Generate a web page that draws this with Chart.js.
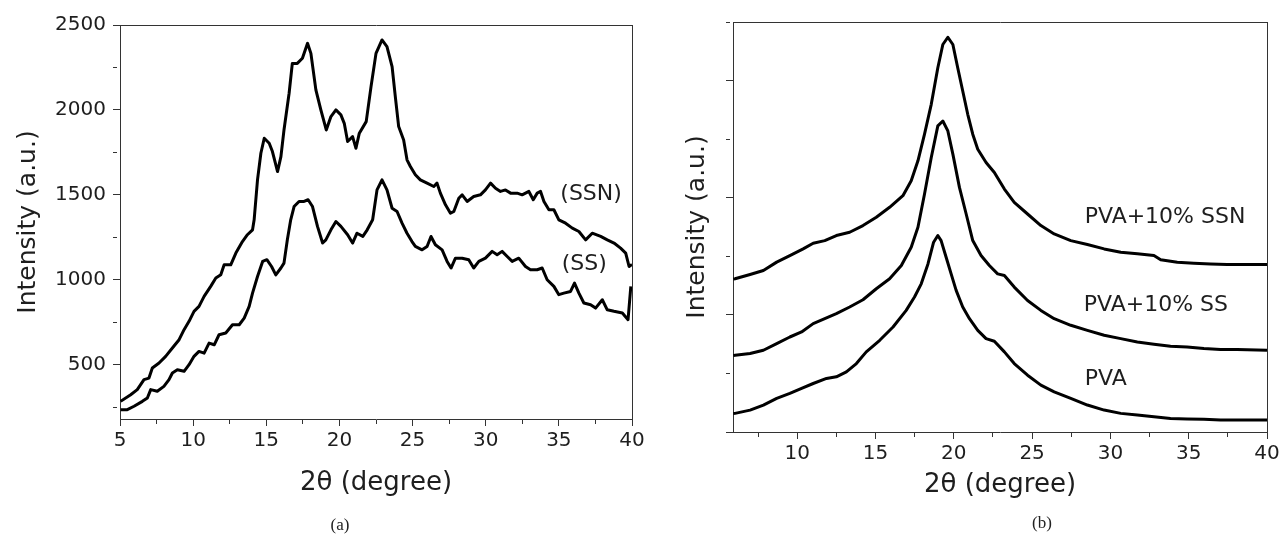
<!DOCTYPE html>
<html>
<head>
<meta charset="utf-8">
<script src="https://cdn.jsdelivr.net/npm/chart.js@4.4.1/dist/chart.umd.min.js"></script>
<style>
html, body { margin: 0; padding: 0; background: #fff; overflow: hidden; width: 1281px; height: 539px; }
canvas { position: absolute; top: 0; }
.cap { position: absolute; font-family: "Liberation Serif", serif; font-size: 17px; color: #222; transform: translate(-50%, -50%); }
</style>
</head>
<body>
<canvas id="chartA" width="660" height="539" style="left:0"></canvas>
<canvas id="chartB" width="640" height="539" style="left:660px"></canvas>
<div class="cap" style="left:340px;top:525px">(a)</div>
<div class="cap" style="left:1042px;top:523px">(b)</div>
<script>
// ---- panel (a) : SSN / SS, intensity counts
var thetaA_SSN = [5.04, 5.73, 6.18, 6.64, 6.98, 7.21, 7.67, 8.12, 8.58, 9.04, 9.38, 9.72, 10.06, 10.4, 10.75, 11.2, 11.55, 11.89, 12.12, 12.57,
    12.92, 13.37, 13.71, 14.06, 14.17, 14.4, 14.63, 14.86, 15.2, 15.42, 15.77, 16.0, 16.21, 16.56, 16.78, 17.12, 17.47, 17.82, 18.05, 18.39,
    18.73, 19.1, 19.42, 19.76, 20.1, 20.33, 20.56, 20.9, 21.13, 21.36, 21.83, 22.16, 22.5, 22.91, 23.25, 23.6, 23.82, 24.05, 24.39, 24.62,
    24.85, 25.19, 25.53, 25.99, 26.45, 26.67, 26.9, 27.25, 27.59, 27.82, 28.16, 28.39, 28.73, 29.18, 29.64, 29.98, 30.33, 30.67, 31.01, 31.35,
    31.7, 32.15, 32.49, 32.95, 33.25, 33.52, 33.75, 33.98, 34.32, 34.66, 35.0, 35.46, 35.92, 36.37, 36.83, 37.28, 37.86, 38.31, 38.77, 39.22,
    39.57, 39.8, 40.0];
var intensA_SSN = [284, 323, 353, 412, 421, 480, 510, 549, 598, 647, 706, 755, 814, 843, 902, 961, 1010, 1029, 1088, 1088,
    1157, 1225, 1265, 1294, 1353, 1588, 1745, 1833, 1804, 1755, 1637, 1725, 1882, 2098, 2274, 2274, 2304, 2392, 2333, 2118,
    2000, 1882, 1961, 2000, 1971, 1921, 1814, 1843, 1774, 1863, 1931, 2137, 2333, 2412, 2373, 2255, 2078, 1902, 1823, 1706,
    1667, 1618, 1588, 1569, 1549, 1569, 1510, 1441, 1392, 1402, 1480, 1500, 1461, 1490, 1500, 1529, 1569, 1539, 1520, 1529,
    1510, 1510, 1500, 1520, 1471, 1510, 1520, 1461, 1412, 1412, 1353, 1333, 1304, 1284, 1235, 1274, 1255, 1235, 1216, 1186,
    1157, 1078, 1090];

var thetaA_SS = [5.04, 5.5, 5.96, 6.53, 6.87, 7.1, 7.55, 8.0, 8.35, 8.58, 8.92, 9.38, 9.72, 10.06, 10.4, 10.75, 11.09, 11.44, 11.77, 12.23,
    12.69, 13.15, 13.49, 13.83, 14.06, 14.4, 14.75, 15.04, 15.36, 15.65, 16.0, 16.21, 16.44, 16.67, 16.9, 17.24, 17.58, 17.86, 18.16, 18.5,
    18.85, 19.07, 19.42, 19.76, 20.1, 20.56, 20.9, 21.2, 21.6, 21.9, 22.27, 22.57, 22.91, 23.25, 23.6, 23.94, 24.28, 24.62, 24.96, 25.19,
    25.65, 25.99, 26.26, 26.56, 27.02, 27.36, 27.63, 27.93, 28.39, 28.84, 29.18, 29.53, 29.98, 30.44, 30.78, 31.12, 31.47, 31.81, 32.26, 32.72,
    33.06, 33.52, 33.86, 34.2, 34.66, 35.0, 35.34, 35.8, 36.07, 36.37, 36.71, 37.17, 37.51, 37.97, 38.31, 38.77, 39.34, 39.73, 39.92];
var intensA_SS = [235, 235, 255, 284, 304, 353, 343, 372, 412, 451, 470, 461, 500, 549, 578, 568, 627, 617, 676, 686,
    735, 735, 774, 843, 921, 1019, 1108, 1118, 1078, 1029, 1069, 1098, 1235, 1353, 1431, 1461, 1461, 1471, 1431, 1314,
    1216, 1235, 1294, 1343, 1314, 1265, 1216, 1274, 1255, 1294, 1353, 1529, 1588, 1529, 1421, 1402, 1333, 1274, 1225, 1196,
    1176, 1196, 1255, 1206, 1176, 1108, 1069, 1127, 1127, 1118, 1069, 1108, 1127, 1167, 1147, 1167, 1137, 1108, 1127, 1078,
    1059, 1059, 1069, 1000, 961, 912, 921, 931, 980, 921, 863, 853, 833, 882, 823, 814, 804, 765, 961];

var xMajorA = [5, 10, 15, 20, 25, 30, 35, 40];
var xMinorA = [7.5, 12.5, 17.5, 22.5, 27.5, 32.5, 37.5];
var yMajorA = [500, 1000, 1500, 2000, 2500];
var yMinorA = [250, 750, 1250, 1750, 2250];

var labelTextA = ['(SSN)', '(SS)'];
var labelThetaA = [35.1, 35.2];
var labelIntensA = [1506, 1091];

// ---- panel (b) : PVA films, arbitrary units
var thetaB_SSN = [5.92, 6.03, 6.99, 7.84, 8.69, 9.53, 10.38, 11.02, 11.76, 12.5, 13.35, 14.2, 15.05, 15.9, 16.75, 17.28, 17.71, 18.13, 18.56, 18.98,
    19.3, 19.62, 19.94, 20.25, 20.57, 20.89, 21.21, 21.53, 22.06, 22.59, 23.23, 23.86, 24.71, 25.56, 26.41, 27.47, 28.53, 29.6, 30.66, 31.72,
    32.78, 33.21, 34.27, 35.33, 36.39, 37.45, 38.51, 40.0];
var intensB_SSN = [1.305, 1.308, 1.345, 1.379, 1.45, 1.506, 1.563, 1.611, 1.634, 1.677, 1.705, 1.762, 1.833, 1.918, 2.017, 2.145, 2.315, 2.542, 2.797, 3.109,
    3.308, 3.37, 3.308, 3.109, 2.911, 2.712, 2.542, 2.414, 2.30, 2.216, 2.074, 1.96, 1.861, 1.762, 1.691, 1.634, 1.6, 1.563, 1.535, 1.521,
    1.506, 1.47, 1.45, 1.441, 1.435, 1.43, 1.43, 1.43];

var thetaB_SS = [5.92, 6.03, 6.99, 7.84, 8.69, 9.53, 10.28, 11.02, 11.76, 12.5, 13.35, 14.2, 15.05, 15.9, 16.65, 17.28, 17.71, 18.13, 18.56, 18.98,
    19.3, 19.62, 19.94, 20.36, 20.79, 21.21, 21.74, 22.27, 22.8, 23.23, 23.86, 24.71, 25.56, 26.41, 27.47, 28.53, 29.6, 30.66, 31.72, 32.78,
    33.84, 34.9, 35.97, 37.03, 38.09, 40.0];
var intensB_SS = [0.652, 0.655, 0.67, 0.698, 0.755, 0.811, 0.854, 0.925, 0.967, 1.01, 1.067, 1.129, 1.223, 1.308, 1.421, 1.577, 1.748, 2.031, 2.343, 2.613,
    2.655, 2.57, 2.372, 2.088, 1.861, 1.634, 1.506, 1.421, 1.35, 1.336, 1.237, 1.123, 1.038, 0.967, 0.911, 0.868, 0.826, 0.797, 0.769, 0.749,
    0.732, 0.726, 0.712, 0.704, 0.704, 0.698];

var thetaB_PVA = [5.92, 6.03, 6.99, 7.84, 8.69, 9.53, 10.28, 11.02, 11.87, 12.5, 13.14, 13.78, 14.41, 15.27, 16.12, 16.96, 17.49, 17.92, 18.35, 18.71,
    18.98, 19.19, 19.51, 19.83, 20.15, 20.57, 21.0, 21.53, 22.06, 22.59, 23.23, 23.86, 24.71, 25.56, 26.41, 27.47, 28.53, 29.6, 30.66, 31.72,
    32.78, 33.84, 34.9, 35.97, 37.03, 38.09, 40.0];
var intensB_PVA = [0.157, 0.159, 0.187, 0.23, 0.287, 0.329, 0.372, 0.414, 0.457, 0.471, 0.513, 0.584, 0.684, 0.783, 0.896, 1.038, 1.152, 1.265, 1.435, 1.62,
    1.677, 1.634, 1.492, 1.35, 1.209, 1.067, 0.967, 0.868, 0.797, 0.775, 0.684, 0.584, 0.485, 0.4, 0.343, 0.287, 0.23, 0.187, 0.159, 0.145,
    0.13, 0.116, 0.111, 0.108, 0.102, 0.102, 0.102];

var xMajorB = [10, 15, 20, 25, 30, 35, 40];
var xMinorB = [7.5, 12.5, 17.5, 22.5, 27.5, 32.5, 37.5];
var yMajorB = [0, 1, 2, 3];
var yMinorB = [0.5, 1.5, 2.5, 3.5];

var labelTextB = ['PVA+10% SSN', 'PVA+10% SS', 'PVA'];
var labelThetaB = [28.36, 28.3, 28.36];
var labelIntensB = [1.834, 1.085, 0.451];

// ---- shared helpers
var FONT = 'DejaVu Sans';
var INK = '#1e1e1e';
var AXIS = '#333';

function pts(xs, ys) {
    return xs.map(function (x, i) { return { x: x, y: ys[i] }; });
}

function curve(xs, ys) {
    return {
        data: pts(xs, ys),
        borderColor: '#000',
        borderWidth: 3,
        borderJoinStyle: 'round',
        pointRadius: 0,
        tension: 0,
        fill: false
    };
}

// axis with long major ticks and short minor ticks (minor = dashed stub)
function tickAxis(pos, min, max, majors, minors, showLabels, size, title, titleSize, titlePad) {
    var horiz = pos === 'bottom';
    return {
        type: 'linear',
        position: pos,
        min: min,
        max: max,
        afterBuildTicks: function (scale) {
            scale.ticks = majors.concat(minors).sort(function (a, b) { return a - b; })
                .map(function (v) { return { value: v }; });
        },
        afterFit: function (scale) {
            if (horiz) scale.height = size; else scale.width = size;
        },
        border: { display: true, color: AXIS, width: 1 },
        grid: {
            drawOnChartArea: false,
            drawTicks: true,
            tickLength: 7,
            tickColor: AXIS,
            tickWidth: 1,
            tickBorderDash: function (ctx) {
                return (ctx.tick && minors.indexOf(ctx.tick.value) >= 0) ? [4, 40] : [];
            }
        },
        ticks: {
            autoSkip: false,
            maxRotation: 0,
            padding: horiz ? 3 : 7,
            color: INK,
            font: { family: FONT, size: 20 },
            callback: function (v) {
                return (showLabels && majors.indexOf(v) >= 0) ? String(v) : '';
            }
        },
        title: {
            display: true,
            text: title,
            color: INK,
            font: { family: FONT, size: titleSize },
            padding: titlePad
        }
    };
}

// plain frame line (top / right) without ticks
function frameAxis(pos) {
    var horiz = pos === 'top';
    return {
        type: 'linear',
        position: pos,
        display: true,
        afterFit: function (scale) {
            if (horiz) scale.height = 0; else scale.width = 0;
        },
        border: { display: true, color: AXIS, width: 1 },
        grid: { display: false, drawTicks: false },
        ticks: { display: false }
    };
}

var curveLabels = {
    id: 'curveLabels',
    afterDatasetsDraw: function (chart, args, opts) {
        var ctx = chart.ctx;
        var xs = chart.scales.x, ys = chart.scales.y;
        ctx.save();
        ctx.font = '22px "' + FONT + '"';
        ctx.fillStyle = INK;
        ctx.textAlign = 'left';
        ctx.textBaseline = 'middle';
        opts.texts.forEach(function (t, i) {
            ctx.fillText(t, xs.getPixelForValue(opts.xs[i]), ys.getPixelForValue(opts.ys[i]));
        });
        ctx.restore();
    }
};

document.addEventListener('DOMContentLoaded', function () {
    try {
        new Chart(document.getElementById('chartA').getContext('2d'), {
            type: 'line',
            data: {
                datasets: [curve(thetaA_SSN, intensA_SSN), curve(thetaA_SS, intensA_SS)]
            },
            options: {
                responsive: false,
                animation: false,
                layout: { padding: { left: 0, top: 25, right: 28, bottom: 0 } },
                plugins: {
                    legend: { display: false },
                    tooltip: { enabled: false },
                    curveLabels: { texts: labelTextA, xs: labelThetaA, ys: labelIntensA }
                },
                scales: {
                    x: tickAxis('bottom', 5, 40, xMajorA, xMinorA, true, 120, '2\u03b8 (degree)', 26, { top: 0, bottom: 40 }),
                    y: tickAxis('left', 180, 2500, yMajorA, yMinorA, true, 120, 'Intensity (a.u.)', 25, { top: 13, bottom: 0 }),
                    x2: frameAxis('top'),
                    y2: frameAxis('right')
                }
            },
            plugins: [curveLabels]
        });

        new Chart(document.getElementById('chartB').getContext('2d'), {
            type: 'line',
            data: {
                datasets: [curve(thetaB_SSN, intensB_SSN), curve(thetaB_SS, intensB_SS), curve(thetaB_PVA, intensB_PVA)]
            },
            options: {
                responsive: false,
                animation: false,
                layout: { padding: { left: 0, top: 22, right: 33, bottom: 0 } },
                plugins: {
                    legend: { display: false },
                    tooltip: { enabled: false },
                    curveLabels: { texts: labelTextB, xs: labelThetaB, ys: labelIntensB }
                },
                scales: {
                    x: tickAxis('bottom', 5.9, 40, xMajorB, xMinorB, true, 107, '2\u03b8 (degree)', 26, { top: 0, bottom: 38 }),
                    y: tickAxis('left', 0, 3.5, yMajorB, yMinorB, false, 73, 'Intensity (a.u.)', 25, { top: 22, bottom: 0 }),
                    x2: frameAxis('top'),
                    y2: frameAxis('right')
                }
            },
            plugins: [curveLabels]
        });
    } catch (error) {
        console.error('Chart error:', error);
    }
});
</script>
</body>
</html>
